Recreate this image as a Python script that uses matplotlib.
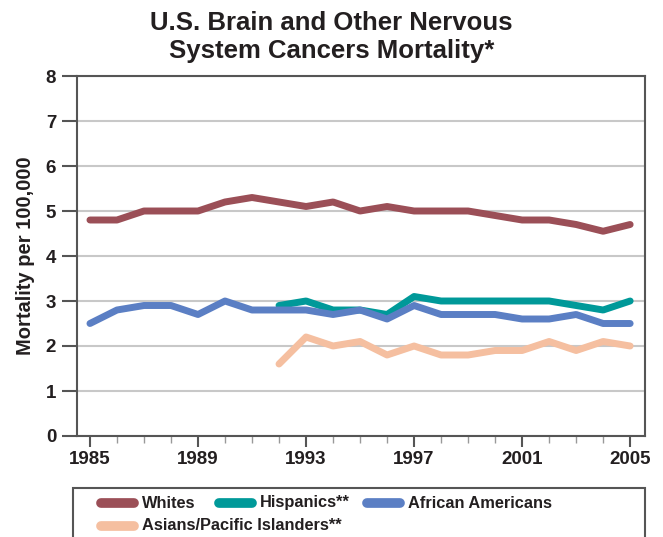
import numpy as np
import matplotlib.pyplot as plt
from matplotlib.lines import Line2D
from matplotlib.patches import Rectangle

plt.rcParams['font.family'] = ['Liberation Sans', 'DejaVu Sans']
plt.rcParams['font.weight'] = 'bold'

# data
years = list(range(1985, 2006))
whites = [4.8, 4.8, 5.0, 5.0, 5.0, 5.2, 5.3, 5.2, 5.1, 5.2, 5.0,
          5.1, 5.0, 5.0, 5.0, 4.9, 4.8, 4.8, 4.7, 4.55, 4.7]
african_am = [2.5, 2.8, 2.9, 2.9, 2.7, 3.0, 2.8, 2.8, 2.8, 2.7, 2.8,
              2.6, 2.9, 2.7, 2.7, 2.7, 2.6, 2.6, 2.7, 2.5, 2.5]
years_late = list(range(1992, 2006))
hispanics = [2.9, 3.0, 2.8, 2.8, 2.7, 3.1, 3.0, 3.0, 3.0, 3.0, 3.0, 2.9, 2.8, 3.0]
asians = [1.6, 2.2, 2.0, 2.1, 1.8, 2.0, 1.8, 1.8, 1.9, 1.9, 2.1, 1.9, 2.1, 2.0]
x_labels = [1985, 1989, 1993, 1997, 2001, 2005]

txt = '#231f20'
spine = '#555555'
lw = 5
W, H = 663, 537

fig = plt.figure(figsize=(6.63, 5.37), dpi=100)
ax = fig.add_axes([77/W, 1-436/H, (645-77)/W, (436-76)/H])

series = [
    (years, whites, '#9b4f57', 'Whites'),
    (years_late, hispanics, '#009999', 'Hispanics**'),
    (years, african_am, '#5b7fc4', 'African Americans'),
    (years_late, asians, '#f5bfa0', 'Asians/Pacific Islanders**'),
]
for xs, ys, c, name in series:
    ax.plot(xs, ys, color=c, lw=lw, solid_capstyle='round', label=name)

ax.set_xlim(1984.52, 2005.55)
ax.set_ylim(0, 8)
ax.set_xticks(x_labels)
ax.set_xticks(years, minor=True)
ax.set_yticks(range(0, 9))
ax.grid(axis='y', color='#c8c8c8', lw=1.5)
ax.set_axisbelow(True)
for s in ax.spines.values():
    s.set_color(spine)
    s.set_linewidth(1.5)
ax.tick_params(axis='x', which='major', length=8, width=1.5, color=spine,
               labelsize=13.5, labelcolor=txt, pad=3)
ax.tick_params(axis='x', which='minor', length=5, width=1, color='#999999')
ax.tick_params(axis='y', length=11, width=1.5, color=spine,
               labelsize=13.5, labelcolor=txt, pad=4)
for lab in ax.get_xticklabels() + ax.get_yticklabels():
    lab.set_fontweight('bold')

ax.set_ylabel('Mortality per 100,000', fontsize=14.5, fontweight='bold', color=txt, labelpad=8)

fig.text(0.5, 1-37/H, 'U.S. Brain and Other Nervous\nSystem Cancers Mortality*',
         ha='center', va='center', fontsize=18.5, fontweight='bold', color=txt,
         linespacing=1.2)

# legend drawn by hand so the second row can run past the first column
fig.add_artist(Rectangle((73/W, -0.05), (645-73)/W, 0.05+1-488/H, transform=fig.transFigure,
                         fill=False, edgecolor=spine, lw=1.5))
leg_pos = [(98, 503), (216, 503), (364, 503), (98, 526)]
for (xs, ys, c, name), (px, py) in zip(series, leg_pos):
    fig.add_artist(Line2D([(px + 3)/W, (px + 36)/W], [1-py/H, 1-py/H], transform=fig.transFigure,
                          color=c, lw=7, solid_capstyle='round'))
    fig.text((px + 44)/W, 1-py/H, name, ha='left', va='center', fontsize=11.8,
             fontweight='bold', color=txt)

fig.savefig('out.png', dpi=100)
